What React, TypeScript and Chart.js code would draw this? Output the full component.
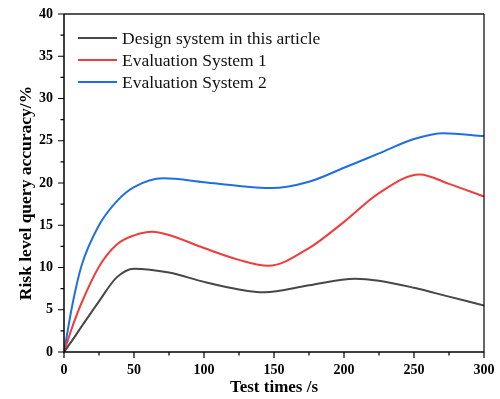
import { useEffect, useRef } from 'react';
import { Chart, registerables } from 'chart.js';

Chart.register(...registerables);

const seriesNames = ['Design system in this article', 'Evaluation System 1', 'Evaluation System 2'];
const seriesColors = ['#474747', '#ef3d3d', '#1f6fe2'];
const xTitle = 'Test times /s';
const yTitle = 'Risk level query accuracy/%';

const designX = [0, 6, 12.5, 25, 37.5, 50, 75, 100, 125, 143, 175, 208, 225, 250, 275, 300];
const designY = [0, 1.4, 3.0, 6.0, 8.8, 9.86, 9.4, 8.3, 7.4, 7.06, 7.9, 8.68, 8.44, 7.6, 6.55, 5.5];

const eval1X = [0, 6, 12.5, 25, 37.5, 50, 63, 75, 100, 125, 146, 175, 200, 225, 254, 275, 300];
const eval1Y = [0, 3.0, 5.8, 10.1, 12.7, 13.8, 14.24, 13.85, 12.3, 10.9, 10.2, 12.3, 15.4, 18.8, 21.0, 19.9, 18.4];

const eval2X = [0, 6, 12.5, 25, 37.5, 50, 71, 100, 125, 148, 175, 200, 225, 250, 271, 300];
const eval2Y = [0, 5.6, 10.2, 15.0, 17.8, 19.5, 20.55, 20.1, 19.65, 19.4, 20.15, 21.8, 23.5, 25.2, 25.9, 25.55];

const xMajorTicks = [0, 50, 100, 150, 200, 250, 300];
const xMinorTicks = [25, 75, 125, 175, 225, 275];
const yMajorTicks = [0, 5, 10, 15, 20, 25, 30, 35, 40];
const yMinorTicks = [2.5, 7.5, 12.5, 17.5, 22.5, 27.5, 32.5, 37.5];

const FONT = "'Liberation Serif', 'Times New Roman', serif";

const toPoints = (xs: number[], ys: number[]) => xs.map((x, i) => ({ x, y: ys[i] }));

const framePlugin = {
  id: 'frame',
  afterDraw(chart: any) {
    const { ctx, chartArea } = chart;
    const { left, right, top, bottom } = chartArea;
    const xs = chart.scales.x;
    const ys = chart.scales.y;
    ctx.save();
    ctx.strokeStyle = '#555555';
    ctx.lineWidth = 2;
    ctx.beginPath();
    ctx.moveTo(left, top);
    ctx.lineTo(right, top);
    ctx.stroke();
    ctx.strokeStyle = '#000000';
    ctx.lineWidth = 1.2;
    ctx.beginPath();
    ctx.moveTo(right, top);
    ctx.lineTo(right, bottom);
    ctx.stroke();
    ctx.lineWidth = 1.5;
    ctx.beginPath();
    ctx.moveTo(left, top);
    ctx.lineTo(left, bottom);
    ctx.lineTo(right, bottom);
    ctx.stroke();
    ctx.lineWidth = 1.2;
    ctx.beginPath();
    yMajorTicks.forEach((v) => {
      const p = ys.getPixelForValue(v);
      ctx.moveTo(left - 6, p);
      ctx.lineTo(left, p);
    });
    yMinorTicks.forEach((v) => {
      const p = ys.getPixelForValue(v);
      ctx.moveTo(left - 3.5, p);
      ctx.lineTo(left, p);
    });
    xMajorTicks.forEach((v) => {
      const p = xs.getPixelForValue(v);
      ctx.moveTo(p, bottom);
      ctx.lineTo(p, bottom + 6);
    });
    xMinorTicks.forEach((v) => {
      const p = xs.getPixelForValue(v);
      ctx.moveTo(p, bottom);
      ctx.lineTo(p, bottom + 3.5);
    });
    ctx.stroke();

    // y axis title
    ctx.save();
    ctx.translate(26, (top + bottom) / 2 + 10);
    ctx.rotate(-Math.PI / 2);
    ctx.font = `bold 17.5px ${FONT}`;
    ctx.fillStyle = '#000';
    ctx.textAlign = 'center';
    ctx.textBaseline = 'middle';
    ctx.fillText(yTitle, 0, 0);
    ctx.restore();

    ctx.restore();
  },
};

const legendPlugin = {
  id: 'innerLegend',
  afterDatasetsDraw(chart: any) {
    const { ctx } = chart;
    ctx.save();
    ctx.font = `17.5px ${FONT}`;
    ctx.textBaseline = 'middle';
    ctx.textAlign = 'left';
    const rows = [38, 60, 82];
    seriesNames.forEach((name, i) => {
      const y = rows[i];
      ctx.strokeStyle = seriesColors[i];
      ctx.lineWidth = 2;
      ctx.beginPath();
      ctx.moveTo(78, y);
      ctx.lineTo(117, y);
      ctx.stroke();
      ctx.fillStyle = '#111111';
      ctx.fillText(name, 122, y + 1);
    });
    ctx.restore();
  },
};

export default function App() {
  const ref = useRef<HTMLCanvasElement | null>(null);

  useEffect(() => {
    if (!ref.current) return;
    const xs = [designX, eval1X, eval2X];
    const ysArr = [designY, eval1Y, eval2Y];
    const chart = new Chart(ref.current, {
      type: 'line',
      data: {
        datasets: seriesNames.map((name, i) => ({
          label: name,
          data: toPoints(xs[i], ysArr[i]),
          borderColor: seriesColors[i],
          backgroundColor: seriesColors[i],
          borderWidth: 2,
          pointRadius: 0,
          fill: false,
          cubicInterpolationMode: 'monotone' as const,
        })),
      },
      options: {
        animation: false,
        responsive: false,
        maintainAspectRatio: false,
        layout: { padding: { left: 0, top: 14, right: 16, bottom: 0 } },
        plugins: { legend: { display: false }, tooltip: { enabled: false } },
        scales: {
          x: {
            type: 'linear',
            min: 0,
            max: 300,
            afterFit: (s: any) => {
              s.height = 47;
              s.paddingLeft = 0;
              s.paddingRight = 0;
            },
            ticks: {
              stepSize: 50,
              padding: 10,
              color: '#000',
              font: { family: FONT, size: 14, weight: 'bold' },
            },
            grid: { display: false, drawTicks: false },
            border: { display: false },
            title: {
              display: true,
              text: xTitle,
              color: '#000',
              font: { family: FONT, size: 17, weight: 'bold' },
              padding: { top: 0, bottom: 1 },
            },
          },
          y: {
            type: 'linear',
            min: 0,
            max: 40,
            afterFit: (s: any) => {
              s.width = 64;
              s.paddingTop = 0;
              s.paddingBottom = 0;
            },
            ticks: {
              stepSize: 5,
              padding: 11,
              color: '#000',
              font: { family: FONT, size: 14, weight: 'bold' },
            },
            grid: { display: false, drawTicks: false },
            border: { display: false },
            title: { display: false },
          },
        },
      },
      plugins: [framePlugin, legendPlugin],
    });
    return () => chart.destroy();
  }, []);

  return (
    <div style={{ position: 'fixed', left: 0, top: 0, width: 500, height: 399, background: '#fff' }}>
      <canvas ref={ref} width={500} height={399} style={{ display: 'block' }} />
    </div>
  );
}
